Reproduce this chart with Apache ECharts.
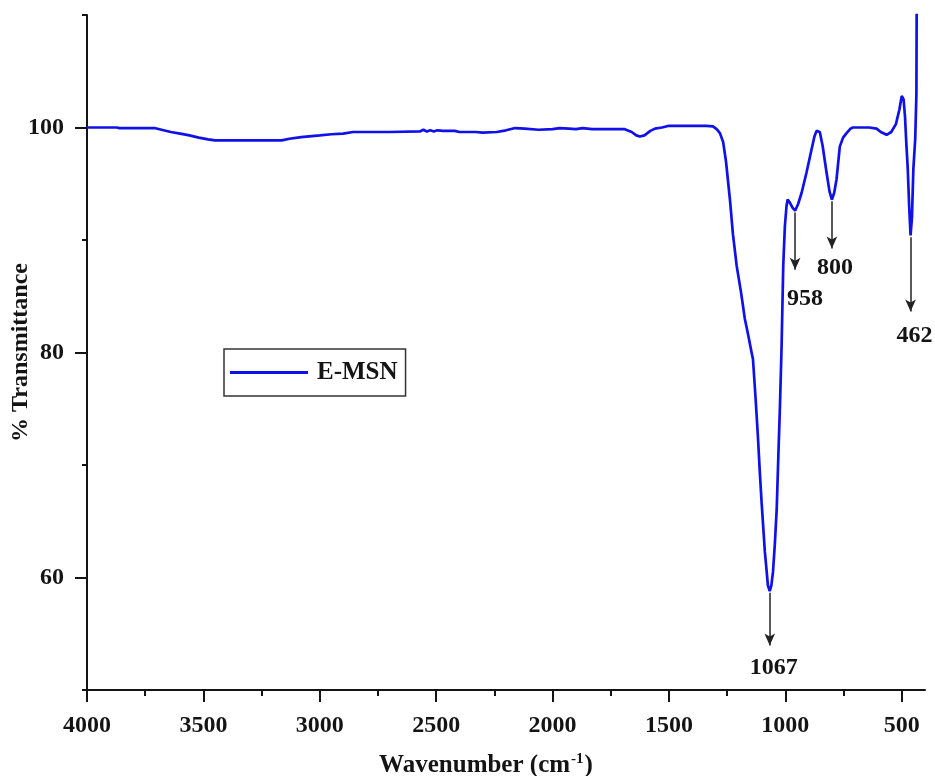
<!DOCTYPE html>
<html>
<head>
<meta charset="utf-8">
<title>FTIR spectrum of E-MSN</title>
<script src="https://cdn.jsdelivr.net/npm/echarts@6/dist/echarts.min.js"></script>
<style>
  html, body { margin: 0; padding: 0; background: #fff; }
  #chart { width: 935px; height: 776px; }
</style>
</head>
<body>
<div id="chart"></div>
<script>
// FTIR spectrum, wavenumber (cm-1) vs % transmittance
const wavenumbers = [
  4000, 3872, 3860, 3710, 3680, 3640, 3600, 3560, 3520, 3480,
  3450, 3300, 3164, 3130, 3080, 3000, 2950, 2900, 2857, 2700,
  2570, 2555, 2540, 2525, 2510, 2495, 2470, 2420, 2400, 2330,
  2300, 2240, 2200, 2160, 2120, 2060, 2000, 1970, 1930, 1900,
  1870, 1830, 1690, 1660, 1640, 1625, 1605, 1580, 1560, 1530,
  1500, 1340, 1311, 1295, 1281, 1267, 1255, 1238, 1225, 1209,
  1190, 1174, 1160, 1145, 1139, 1128, 1118, 1110, 1102, 1095,
  1088, 1080, 1075, 1067, 1060, 1053, 1045, 1037, 1030, 1023,
  1016, 1009, 1002, 995, 990, 980, 970, 958, 945, 930,
  909, 890, 875, 866, 852, 840, 823, 810, 800, 790,
  780, 766, 752, 737, 720, 710, 640, 608, 590, 565,
  545, 525, 510, 500, 492, 486, 480, 474, 468, 462,
  456, 450, 442, 437, 435
];
const transmittance = [
  100.0, 100.0, 99.95, 99.95, 99.8, 99.6, 99.45, 99.3, 99.1, 98.95,
  98.85, 98.85, 98.85, 99.0, 99.15, 99.3, 99.4, 99.45, 99.6, 99.6,
  99.65, 99.8, 99.65, 99.75, 99.65, 99.75, 99.7, 99.7, 99.6, 99.6,
  99.55, 99.6, 99.75, 99.95, 99.9, 99.8, 99.85, 99.95, 99.9, 99.85,
  99.95, 99.85, 99.85, 99.6, 99.3, 99.2, 99.3, 99.7, 99.9, 100.0,
  100.15, 100.15, 100.1, 99.85, 99.5, 98.7, 97.0, 93.6, 90.5, 87.7,
  85.3, 83.0, 81.6, 80.0, 79.4, 76.0, 72.6, 69.5, 66.7, 64.5,
  62.3, 60.5, 59.3, 58.8, 59.3, 60.5, 63.0, 66.1, 70.8, 75.3,
  80.6, 87.7, 91.2, 93.0, 93.6, 93.3, 92.9, 92.6, 93.2, 94.2,
  96.0, 97.8, 99.2, 99.7, 99.6, 98.4, 96.0, 94.3, 93.6, 94.2,
  95.4, 98.3, 99.1, 99.5, 99.9, 100.0, 100.0, 99.9, 99.6, 99.35,
  99.6, 100.3, 101.6, 102.8, 102.5, 101.0, 98.5, 96.3, 93.0, 90.4,
  92.0, 96.3, 99.0, 102.9, 115.0
];

// Tick values
const xMajorTicks = [4000, 3500, 3000, 2500, 2000, 1500, 1000, 500];
const xMinorTicks = [3750, 3250, 2750, 2250, 1750, 1250, 750];
const yMajorTicks = [60, 80, 100];
const yMinorTicks = [50, 70, 90, 110];

// Labelled absorption bands
const peakWavenumbers = [1067, 958, 800, 462];
const peakLabels = ['1067', '958', '800', '462'];

// Annotation layout: arrow length (in % units) and label offset (px)
const arrowLength = { '1067': 4.7, '958': 5.1, '800': 4.2, '462': 6.6 };
const labelOffset = { '1067': [4, 22], '958': [10, 29], '800': [3, 19], '462': [4, 24] };

const FONT = "'Liberation Serif', 'DejaVu Serif', serif";
const INK = '#141414';
const BLUE = '#1010e8';

const spectrum = wavenumbers.map((w, i) => [w, transmittance[i]]);

function valueAt(w) {
  return transmittance[wavenumbers.indexOf(w)];
}

const arrowData = peakWavenumbers.map((w, i) => {
  const start = valueAt(w) - 0.15;
  const end = start - arrowLength[peakLabels[i]];
  return [
    { coord: [w, start], symbol: 'none' },
    { coord: [w, end], symbol: 'arrow', symbolSize: [8, 12] }
  ];
});

const labelData = peakWavenumbers.map((w, i) => {
  const start = valueAt(w) - 0.15;
  const end = start - arrowLength[peakLabels[i]];
  return {
    coord: [w, end],
    value: peakLabels[i],
    label: { offset: labelOffset[peakLabels[i]] }
  };
});

const tickText = {
  fontFamily: FONT, fontWeight: 'bold', fontSize: 24, color: INK,
  formatter: (v) => String(v)
};

const chart = echarts.init(document.getElementById('chart'), null, { renderer: 'canvas' });

chart.setOption({
  animation: false,
  backgroundColor: '#ffffff',
  grid: {
    left: 87, right: 10, top: 15, bottom: 86,
    containLabel: false,
    outerBoundsMode: 'none'
  },
  legend: {
    left: 224,
    top: 349,
    orient: 'vertical',
    padding: [11, 8, 11, 6],
    borderColor: '#333',
    borderWidth: 1.5,
    itemWidth: 78,
    itemHeight: 3,
    icon: 'rect',
    data: ['E-MSN'],
    textStyle: {
      fontFamily: FONT, fontWeight: 'bold', fontSize: 25, color: INK,
      padding: [0, 0, 0, 4]
    }
  },
  xAxis: [
    {
      type: 'value',
      inverse: true,
      min: 400,
      max: 4000,
      position: 'bottom',
      name: '{t|Wavenumber (cm}{s|-1}{t|)}',
      nameLocation: 'middle',
      nameGap: 62,
      nameMoveOverlap: false,
      nameTextStyle: {
        padding: [0, 40, 0, 0],
        rich: {
          t: { fontFamily: FONT, fontWeight: 'bold', fontSize: 25, color: INK },
          s: { fontFamily: FONT, fontWeight: 'bold', fontSize: 15, color: INK, padding: [0, 1, 12, 1] }
        }
      },
      axisLine: { show: true, onZero: false, lineStyle: { color: INK, width: 2 } },
      axisTick: { show: true, length: 12, customValues: xMajorTicks, lineStyle: { color: INK, width: 2 } },
      axisLabel: Object.assign({ customValues: xMajorTicks, margin: 24 }, tickText),
      splitLine: { show: false }
    },
    {
      type: 'value',
      inverse: true,
      min: 400,
      max: 4000,
      position: 'bottom',
      axisLine: { show: false, onZero: false },
      axisTick: { show: true, length: 6, customValues: xMinorTicks, lineStyle: { color: INK, width: 2 } },
      axisLabel: { show: false },
      splitLine: { show: false }
    }
  ],
  yAxis: [
    {
      type: 'value',
      min: 50,
      max: 110,
      position: 'left',
      name: '% Transmittance',
      nameLocation: 'middle',
      nameGap: 54,
      nameRotate: 90,
      nameMoveOverlap: false,
      nameTextStyle: { fontFamily: FONT, fontWeight: 'bold', fontSize: 24, color: INK },
      axisLine: { show: true, onZero: false, lineStyle: { color: INK, width: 2 } },
      axisTick: { show: true, length: 12, customValues: yMajorTicks, lineStyle: { color: INK, width: 2 } },
      axisLabel: Object.assign({ customValues: yMajorTicks, margin: 23 }, tickText),
      splitLine: { show: false }
    },
    {
      type: 'value',
      min: 50,
      max: 110,
      position: 'left',
      axisLine: { show: false, onZero: false },
      axisTick: { show: true, length: 5, customValues: yMinorTicks, lineStyle: { color: INK, width: 2 } },
      axisLabel: { show: false },
      splitLine: { show: false }
    }
  ],
  series: [
    {
      name: 'E-MSN',
      type: 'line',
      xAxisIndex: 0,
      yAxisIndex: 0,
      data: spectrum,
      symbol: 'none',
      showSymbol: false,
      clip: true,
      color: BLUE,
      lineStyle: { color: BLUE, width: 2.7 },
      z: 3,
      markLine: {
        silent: true,
        symbol: ['none', 'arrow'],
        symbolSize: 12,
        lineStyle: { color: '#222', width: 1.5, type: 'solid' },
        itemStyle: { color: '#222' },
        label: { show: false },
        emphasis: { disabled: true },
        data: arrowData
      },
      markPoint: {
        silent: true,
        symbol: 'circle',
        symbolSize: 0,
        label: {
          show: true,
          position: 'inside',
          formatter: '{c}',
          fontFamily: FONT, fontWeight: 'bold', fontSize: 24, color: INK
        },
        data: labelData
      }
    }
  ]
});
</script>
</body>
</html>
